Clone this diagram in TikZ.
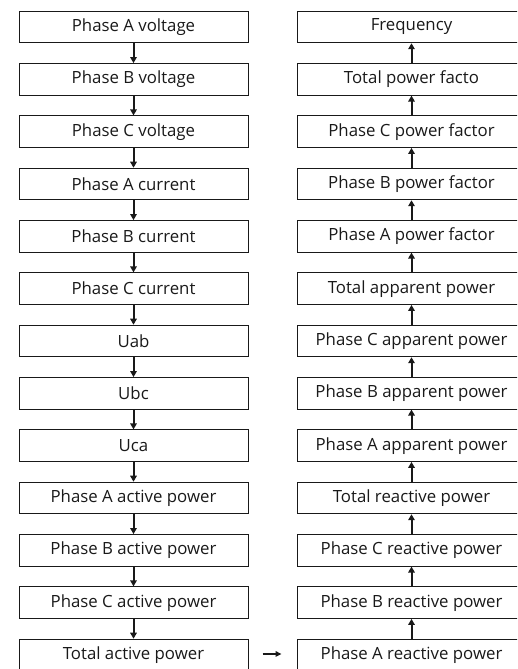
\documentclass[tikz,border=0pt]{standalone}
\usepackage{fontspec}
\setmainfont{Open Sans}
\usetikzlibrary{arrows.meta,calc}
\tikzset{
  itembox/.style={draw=black!90, line width=1pt, rectangle, minimum width=229pt, minimum height=31.5pt, inner sep=0pt, font=\fontsize{16.8pt}{19pt}\selectfont, text=black!90},
  flow/.style={line width=2pt, draw=black!90, -{Triangle[length=6pt,width=6.5pt]}}
}
\begin{document}
\begin{tikzpicture}[x=1pt,y=-1pt]
\path[use as bounding box] (0,0) rectangle (517,669);
\clip (0,0) rectangle (517,669);
\def\pitch{52.33}
% left column
\foreach \t [count=\i] in {Phase A voltage,Phase B voltage,Phase C voltage,Phase A current,Phase B current,Phase C current,Uab,Ubc,Uca,Phase A active power,Phase B active power,Phase C active power,Total active power}{
  \node[itembox] (L\i) at (133.5,{27+\pitch*(\i-1)}) {\t};
}
% right column
\foreach \t [count=\i] in {Frequency,Total power facto,Phase C power factor,Phase B power factor,Phase A power factor,Total apparent power,Phase C apparent power,Phase B apparent power,Phase A apparent power,Total reactive power,Phase C reactive power,Phase B reactive power,Phase A reactive power}{
  \node[itembox] (R\i) at (411.5,{27+\pitch*(\i-1)}) {\t};
}
\foreach \i [evaluate=\i as \j using int(\i+1)] in {1,...,12}{
  \draw[flow] (L\i.south) -- (L\j.north);
  \draw[flow] (R\j.north) -- (R\i.south);
}
\coordinate (hs) at ($(L13.east)+(14,-1)$);
\coordinate (he) at ($(R13.west)+(-15,-1)$);
\draw[flow, line width=1.8pt, -{Triangle[length=6pt,width=5.5pt]}] (hs) -- (he);
\end{tikzpicture}
\end{document}
